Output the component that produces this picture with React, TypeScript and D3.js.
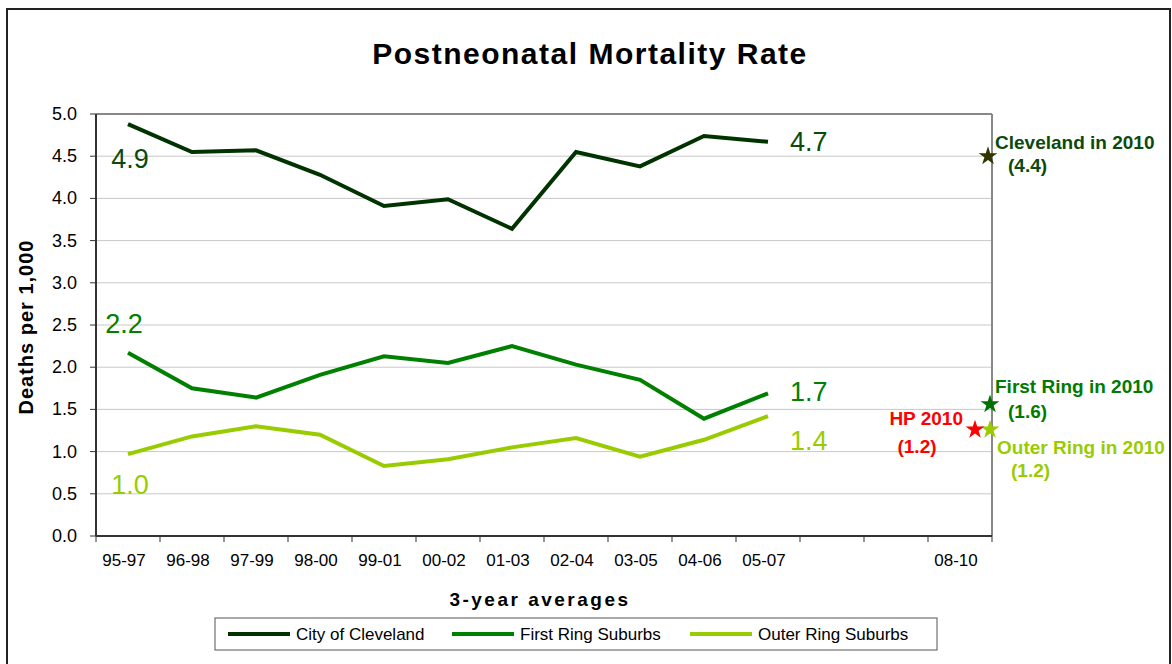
import React from "react";
import * as d3 from "d3";

const periods = [
  "95-97", "96-98", "97-99", "98-00", "99-01", "00-02", "01-03",
  "02-04", "03-05", "04-06", "05-07", "06-08", "07-09", "08-10",
];
const tickLabels = [
  "95-97", "96-98", "97-99", "98-00", "99-01", "00-02", "01-03",
  "02-04", "03-05", "04-06", "05-07", "", "", "08-10",
];
const cleveland = [4.88, 4.55, 4.57, 4.28, 3.91, 3.99, 3.64, 4.55, 4.38, 4.74, 4.67];
const firstRing = [2.17, 1.75, 1.64, 1.91, 2.13, 2.05, 2.25, 2.03, 1.85, 1.39, 1.69];
const outerRing = [0.97, 1.18, 1.3, 1.2, 0.83, 0.91, 1.05, 1.16, 0.94, 1.14, 1.42];
const yTicks = [0, 0.5, 1, 1.5, 2, 2.5, 3, 3.5, 4, 4.5, 5];

const seriesNames = ["City of Cleveland", "First Ring Suburbs", "Outer Ring Suburbs"];
const seriesColors = ["#003300", "#008000", "#99cc00"];
const labelColors = ["#0b4a0b", "#008000", "#99cc00"];

// start / end value labels: text, dx, dy relative to the point
const endLabels = [
  { s: 0, i: 0, text: "4.9", dx: 2, dy: 44, anchor: "middle" },
  { s: 0, i: 10, text: "4.7", dx: 22, dy: 9, anchor: "start" },
  { s: 1, i: 0, text: "2.2", dx: -4, dy: -20, anchor: "middle" },
  { s: 1, i: 10, text: "1.7", dx: 22, dy: 8, anchor: "start" },
  { s: 2, i: 0, text: "1.0", dx: 2, dy: 40, anchor: "middle" },
  { s: 2, i: 10, text: "1.4", dx: 22, dy: 34, anchor: "start" },
];

// 2010 targets (star value as plotted, label value)
const targets = [
  { name: "Cleveland in 2010", value: 4.5, label: "(4.4)", star: "#333300", color: "#0b4a0b" },
  { name: "First Ring in 2010", value: 1.56, label: "(1.6)", star: "#007000", color: "#007a00" },
  { name: "Outer Ring in 2010", value: 1.26, label: "(1.2)", star: "#99cc00", color: "#99cc00" },
];
const hpTarget = { name: "HP 2010", value: 1.26, label: "(1.2)", color: "#ff0000" };

const W = 1172;
const H = 664;
const margin = { top: 114, right: 180, bottom: 128, left: 96 };

export default function App() {
  const x = d3
    .scaleBand()
    .domain(periods)
    .range([margin.left, W - margin.right])
    .padding(0);
  const y = d3.scaleLinear().domain([0, 5]).range([H - margin.bottom, margin.top]);
  const cx = (i) => x(periods[i]) + x.bandwidth() / 2;
  const all = [cleveland, firstRing, outerRing];

  const line = d3
    .line()
    .x((d, i) => cx(i))
    .y((d) => y(d));

  const x0 = margin.left;
  const x1 = W - margin.right;
  const yBot = y(0);
  const yTop = y(5);
  const star = d3.symbol().type(d3.symbolStar).size(110);
  const font = "'Liberation Sans', Arial, sans-serif";

  const legendX = [228, 452, 690];

  return (
    <svg
      width={W}
      height={H}
      style={{ position: "absolute", left: 0, top: 0, background: "#fff" }}
      fontFamily={font}
    >
      {/* outer frame */}
      <path d={`M7,${H + 2}V9H1170V${H + 2}`} fill="none" stroke="#222" strokeWidth={2} />

      <text
        x={590}
        y={64}
        textAnchor="middle"
        fontSize={30}
        fontWeight="bold"
        letterSpacing={1.5}
      >
        Postneonatal Mortality Rate
      </text>

      {/* grid */}
      {yTicks.map((t) => (
        <line key={t} x1={x0} x2={x1} y1={y(t)} y2={y(t)} stroke="#c8c8c8" strokeWidth={1} />
      ))}
      <line x1={x0} x2={x1} y1={yTop} y2={yTop} stroke="#888" strokeWidth={2} />
      <line x1={x1} x2={x1} y1={yTop} y2={yBot} stroke="#888" strokeWidth={2} />

      {/* y axis */}
      <line x1={x0} x2={x0} y1={yTop} y2={yBot} stroke="#333" strokeWidth={2} />
      {yTicks.map((t) => (
        <g key={t}>
          <line x1={x0 - 6} x2={x0} y1={y(t)} y2={y(t)} stroke="#333" strokeWidth={1} />
          <text x={x0 - 19} y={y(t) + 6} textAnchor="end" fontSize={18}>
            {t.toFixed(1)}
          </text>
        </g>
      ))}

      {/* x axis */}
      <line x1={x0} x2={x1} y1={yBot} y2={yBot} stroke="#333" strokeWidth={2} />
      {periods.map((p) => (
        <line
          key={p}
          x1={x(p)}
          x2={x(p)}
          y1={yBot}
          y2={yBot + 6}
          stroke="#333"
          strokeWidth={1}
        />
      ))}
      <line x1={x1} x2={x1} y1={yBot} y2={yBot + 6} stroke="#333" strokeWidth={1} />
      {periods.map((p, i) => (
        <text key={p} x={cx(i) - 4} y={yBot + 30} textAnchor="middle" fontSize={17}>
          {tickLabels[i]}
        </text>
      ))}

      <text
        x={540}
        y={606}
        textAnchor="middle"
        fontSize={19}
        fontWeight="bold"
        letterSpacing={2.5}
      >
        3-year averages
      </text>
      <text
        transform={`translate(33,327) rotate(-90)`}
        textAnchor="middle"
        fontSize={20}
        fontWeight="bold"
        letterSpacing={1}
      >
        Deaths per 1,000
      </text>

      {/* series */}
      {all.map((s, k) => (
        <path
          key={k}
          d={line(s)}
          fill="none"
          stroke={seriesColors[k]}
          strokeWidth={4}
          strokeLinejoin="miter"
        />
      ))}

      {endLabels.map((l, k) => (
        <text
          key={k}
          x={cx(l.i) + l.dx}
          y={y(all[l.s][l.i]) + l.dy}
          textAnchor={l.anchor}
          fontSize={27}
          fill={labelColors[l.s]}
        >
          {l.text}
        </text>
      ))}

      {/* 2010 targets */}
      {targets.map((t, k) => (
        <g key={t.name}>
          <path
            d={star()}
            transform={`translate(${x1 - (k === 0 ? 4 : 2)},${y(t.value)})`}
            fill={t.star}
          />
          <text
            x={x1 + 3 + (k === 2 ? 2 : 0)}
            y={y(t.value) + (k === 0 ? -7 : k === 1 ? -11 : 24)}
            fontSize={19}
            fontWeight="bold"
            fill={t.color}
          >
            {t.name}
          </text>
          <text
            x={x1 + 16 + (k === 2 ? 3 : 0)}
            y={y(t.value) + (k === 0 ? 16 : k === 1 ? 14 : 47)}
            fontSize={19}
            fontWeight="bold"
            fill={t.color}
          >
            {t.label}
          </text>
        </g>
      ))}
      <path
        d={star()}
        transform={`translate(${x1 - 17},${y(hpTarget.value)})`}
        fill={hpTarget.color}
      />
      <text
        x={x1 - 29}
        y={y(hpTarget.value) - 5}
        textAnchor="end"
        fontSize={19}
        fontWeight="bold"
        fill={hpTarget.color}
      >
        {hpTarget.name}
      </text>
      <text
        x={x1 - 75}
        y={y(hpTarget.value) + 23}
        textAnchor="middle"
        fontSize={19}
        fontWeight="bold"
        fill={hpTarget.color}
      >
        {hpTarget.label}
      </text>

      {/* legend */}
      <rect x={215} y={618} width={722} height={32} fill="#fff" stroke="#555" strokeWidth={1} />
      {seriesNames.map((n, k) => (
        <g key={n}>
          <line
            x1={legendX[k]}
            x2={legendX[k] + 62}
            y1={634}
            y2={634}
            stroke={seriesColors[k]}
            strokeWidth={4}
          />
          <text x={legendX[k] + 68} y={640} fontSize={17}>
            {n}
          </text>
        </g>
      ))}
    </svg>
  );
}
